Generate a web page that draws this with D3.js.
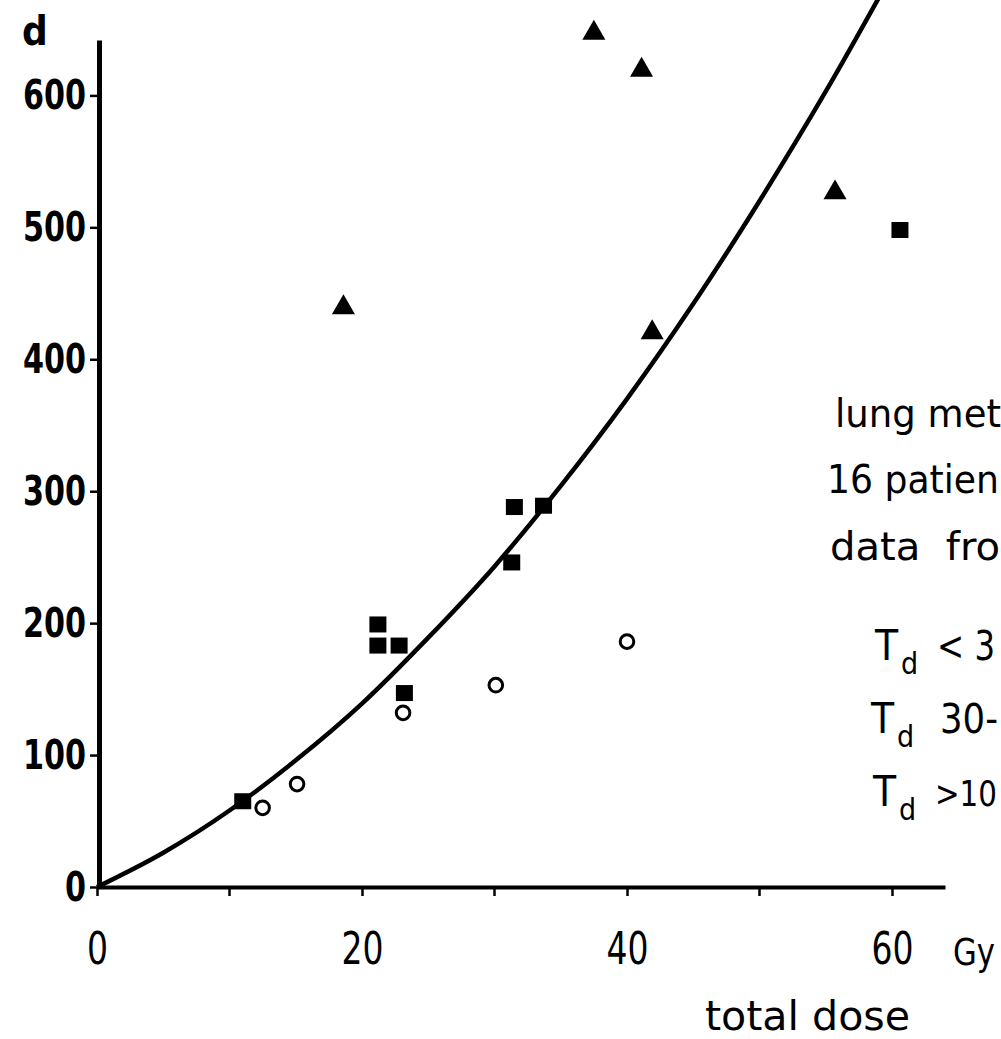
<!DOCTYPE html>
<html>
<head>
<meta charset="utf-8">
<script src="https://cdn.jsdelivr.net/npm/d3@7"></script>
<style>
  body { margin: 0; background: #fff; }
  svg { display: block; }
  text { font-family: "DejaVu Sans Condensed", "DejaVu Sans", sans-serif; fill: #000; }
</style>
</head>
<body>
<div class="canvas"></div>
<script>
// values (dose in Gy, d)
const squares = [
  [11.0, 65], [21.2, 199], [21.2, 183], [22.8, 183], [23.2, 147],
  [31.3, 246], [31.5, 288], [33.7, 289], [60.6, 498]
];
const circles = [
  [12.5, 60], [15.1, 78], [23.1, 132], [30.1, 153], [40.0, 186]
];
const triangles = [
  [18.6, 440], [37.5, 648], [41.1, 620], [41.9, 421], [55.7, 527]
];
// fitted curve, points
const curveDose = [0, 5, 10, 15, 20, 25, 30, 35, 40, 45, 50, 55, 60];
const curveVal = [0, 26, 58, 96, 139, 189, 243, 304, 370, 442, 520, 603, 692];

const xTicks = [0, 20, 40, 60];
const xMinorTicks = [10, 30, 50];
const yTicks = [0, 100, 200, 300, 400, 500, 600];
// the scan is cut at the right edge, only these parts are visible
const infoLines = ['lung met', '16 patien', 'data  fro'];
const legendRows = ['< 3', '30-', '>10'];

const width = 1001;
const height = 1039;

const svg = d3.select('.canvas')
  .append('svg')
  .attr('width', width)
  .attr('height', height);

// scales, domain runs a little past the last tick so the axis lines overshoot like the original
const x = d3.scaleLinear().domain([0, 64]).range([97, 945]);
const y = d3.scaleLinear().domain([0, 642]).range([887, 40]);

// y axis
const yAxisGroup = svg.append('g').attr('transform', `translate(${x(0) + 2}, 0)`);
yAxisGroup.call(d3.axisLeft(y).tickValues(yTicks).tickSize(9).tickSizeOuter(0).tickPadding(4));
yAxisGroup.select('.domain').attr('stroke', '#000').attr('stroke-width', 5);
yAxisGroup.selectAll('.tick line').attr('stroke', '#000').attr('stroke-width', 2.5);
yAxisGroup.selectAll('text')
  .attr('font-size', 41)
  .attr('font-weight', 'bold')
  .attr('font-family', '"DejaVu Sans Condensed", sans-serif')
  .attr('textLength', d => String(d).length * 21)
  .attr('lengthAdjust', 'spacingAndGlyphs')
  .attr('fill', '#000');

// x axis
const xAxisGroup = svg.append('g').attr('transform', `translate(0, ${y(0)})`);
xAxisGroup.call(d3.axisBottom(x).tickValues(xTicks).tickSize(9).tickSizeOuter(0).tickPadding(37));
xAxisGroup.select('.domain').attr('stroke', '#000').attr('stroke-width', 4);
xAxisGroup.selectAll('.tick line').attr('stroke', '#000').attr('stroke-width', 2.5);
xAxisGroup.selectAll('text')
  .attr('font-size', 44)
  .attr('font-family', '"DejaVu Sans Condensed", sans-serif')
  .attr('textLength', d => String(d).length * 21)
  .attr('lengthAdjust', 'spacingAndGlyphs')
  .attr('fill', '#000');

// minor ticks at 10, 30, 50
xAxisGroup.selectAll('.minor')
  .data(xMinorTicks)
  .enter()
  .append('line')
  .attr('x1', d => x(d)).attr('x2', d => x(d))
  .attr('y1', 0).attr('y2', 9)
  .attr('stroke', '#000').attr('stroke-width', 2.5);

// axis titles
svg.append('text').attr('x', 22).attr('y', 45)
  .attr('font-size', 40).attr('font-weight', 'bold').text('d');
svg.append('text').attr('x', 953).attr('y', 965)
  .attr('font-size', 37)
  .attr('textLength', 42).attr('lengthAdjust', 'spacingAndGlyphs')
  .text('Gy');
svg.append('text').attr('x', 705).attr('y', 1030)
  .attr('font-size', 40)
  .attr('textLength', 205).attr('lengthAdjust', 'spacingAndGlyphs')
  .text('total dose');

// curve
const line = d3.line()
  .x(d => x(d[0]))
  .y(d => y(d[1]))
  .curve(d3.curveMonotoneX);

svg.append('path')
  .datum(curveDose.map((d, i) => [d, curveVal[i]]))
  .attr('d', line)
  .attr('fill', 'none')
  .attr('stroke', '#000')
  .attr('stroke-width', 4.5);

// markers
svg.selectAll('.sq')
  .data(squares)
  .enter()
  .append('rect')
  .attr('x', d => x(d[0]) - 8.5)
  .attr('y', d => y(d[1]) - 8)
  .attr('width', 17)
  .attr('height', 16)
  .attr('fill', '#000');

svg.selectAll('.circ')
  .data(circles)
  .enter()
  .append('circle')
  .attr('cx', d => x(d[0]))
  .attr('cy', d => y(d[1]))
  .attr('r', 6.8)
  .attr('fill', '#fff')
  .attr('stroke', '#000')
  .attr('stroke-width', 3);

const tri = d3.symbol().type(d3.symbolTriangle).size(230);
svg.selectAll('.tri')
  .data(triangles)
  .enter()
  .append('path')
  .attr('d', tri)
  .attr('transform', d => `translate(${x(d[0])}, ${y(d[1]) + 1})`)
  .attr('fill', '#000');

// note text on the right
svg.selectAll('.info')
  .data(infoLines)
  .enter()
  .append('text')
  .attr('x', (d, i) => [835, 827, 830][i])
  .attr('y', (d, i) => [427, 493, 560][i])
  .attr('font-size', 39)
  .attr('textLength', (d, i) => [166, 172, 170][i])
  .attr('lengthAdjust', 'spacingAndGlyphs')
  .style('white-space', 'pre')
  .text(d => d);

// legend rows: T with subscript d
const legend = svg.selectAll('.leg')
  .data(legendRows)
  .enter()
  .append('g');
legend.append('text')
  .attr('x', (d, i) => [875, 871, 873][i])
  .attr('y', (d, i) => 660 + i * 73)
  .attr('font-size', 42)
  .text('T');
legend.append('text')
  .attr('x', (d, i) => [901, 897, 899][i])
  .attr('y', (d, i) => 674 + i * 73)
  .attr('font-size', 30)
  .text('d');
legend.append('text')
  .attr('x', (d, i) => [937, 940, 935][i])
  .attr('y', (d, i) => 660 + i * 73)
  .attr('font-size', (d, i) => [40, 40, 35][i])
  .attr('textLength', (d, i) => [58, 58, 62][i])
  .attr('lengthAdjust', 'spacingAndGlyphs')
  .text(d => d);
</script>
</body>
</html>
